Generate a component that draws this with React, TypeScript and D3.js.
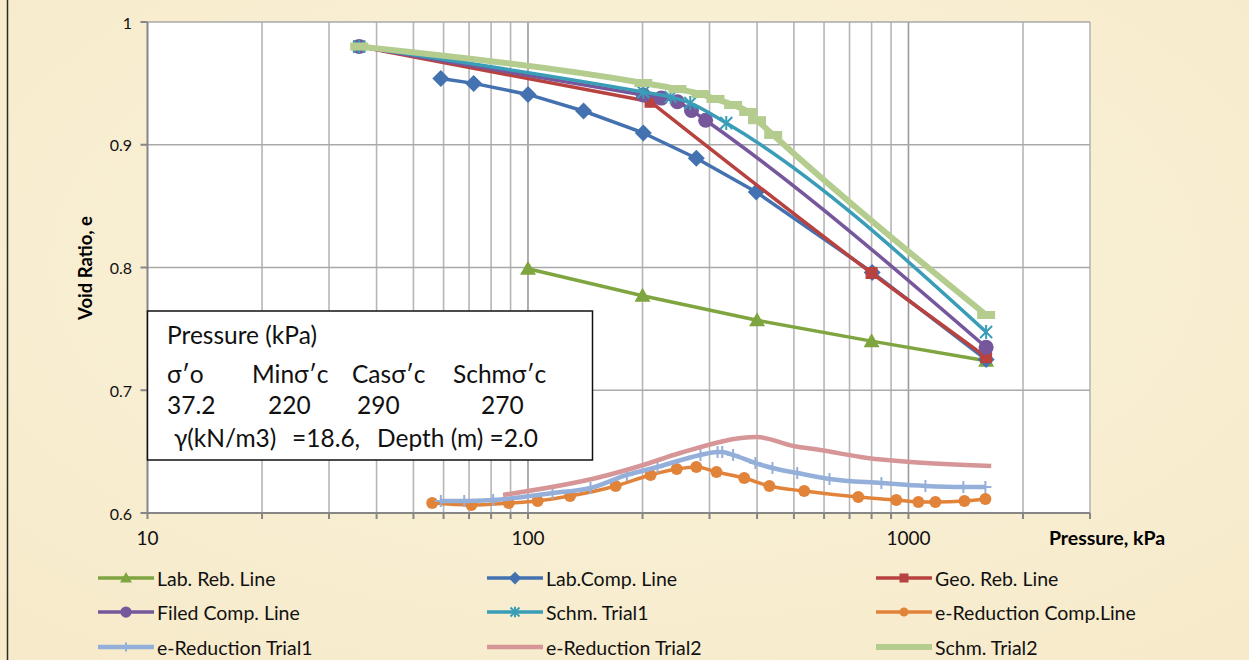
import React from 'react';
import * as d3 from 'd3';

// ---- data (pressure kPa, void ratio e) ----
const labRebP = [100, 200, 400, 800, 1600];
const labRebE = [0.799, 0.777, 0.757, 0.740, 0.724];

const labCompP = [59, 72, 100, 140, 201, 277, 398, 803, 1600];
const labCompE = [0.954, 0.950, 0.941, 0.9275, 0.9096, 0.889, 0.8615, 0.796, 0.725];

const geoRebP = [36, 210, 800, 1600];
const geoRebE = [0.980, 0.935, 0.7955, 0.727];

const filedP = [36, 201, 224, 247, 269, 293, 1600];
const filedE = [0.980, 0.9405, 0.938, 0.935, 0.928, 0.920, 0.735];

const schm1P = [36, 201, 237, 267, 332, 1600];
const schm1E = [0.980, 0.943, 0.939, 0.934, 0.9177, 0.7475];

const eRedCompP = [56, 71, 89, 106, 129, 170, 210, 246, 277, 313, 370, 431, 532, 738, 929, 1062, 1177, 1403, 1593];
const eRedCompE = [0.6081, 0.6065, 0.6081, 0.6098, 0.6138, 0.622, 0.631, 0.6358, 0.6375, 0.6334, 0.6285, 0.622, 0.6179, 0.613, 0.6106, 0.609, 0.609, 0.6098, 0.6114];

const eRed1P = [59, 68, 81, 116, 146, 182, 219, 284, 315, 324, 346, 396, 439, 510, 620, 849, 1108, 1394, 1593];
const eRed1E = [0.6098, 0.6098, 0.6106, 0.6163, 0.6204, 0.631, 0.6375, 0.6473, 0.6497, 0.6497, 0.6473, 0.6407, 0.6367, 0.6326, 0.6277, 0.6244, 0.622, 0.6212, 0.6212];

const eRed2P = [86, 155, 201, 251, 400, 498, 586, 780, 1012, 1650];
const eRed2E = [0.6147, 0.6293, 0.6391, 0.6489, 0.6619, 0.6546, 0.6513, 0.6448, 0.6415, 0.6383];

const schm2P = [36, 201, 247, 284, 311, 346, 379, 400, 441, 1600];
const schm2E = [0.980, 0.9503, 0.9454, 0.9413, 0.9373, 0.9324, 0.9267, 0.920, 0.908, 0.7613];

const yTicks = [0.6, 0.7, 0.8, 0.9, 1];
const xLabelTicks = [10, 100, 1000];
const xGrid = [20, 30, 40, 50, 60, 70, 80, 90, 100, 200, 300, 400, 500, 600, 700, 800, 900, 1000, 2000, 3000];

type Marker = 'triangle' | 'diamond' | 'square' | 'circle' | 'star' | 'circleS' | 'plus' | 'none' | 'dash';

interface Series { name: string; p: number[]; e: number[]; color: string; width: number; marker: Marker; smooth: boolean; straightHead?: boolean; }

// drawn in this order (later on top), also the legend order
const series: Series[] = [
  { name: 'Lab. Reb. Line', p: labRebP, e: labRebE, color: '#7FA540', width: 3.5, marker: 'triangle', smooth: false },
  { name: 'Lab.Comp. Line', p: labCompP, e: labCompE, color: '#4472B1', width: 3.5, marker: 'diamond', smooth: false },
  { name: 'Geo. Reb. Line', p: geoRebP, e: geoRebE, color: '#B8423F', width: 3.5, marker: 'square', smooth: true, straightHead: true },
  { name: 'Filed Comp. Line', p: filedP, e: filedE, color: '#76579C', width: 3.5, marker: 'circle', smooth: true },
  { name: 'Schm. Trial1', p: schm1P, e: schm1E, color: '#3A9DB8', width: 3.5, marker: 'star', smooth: true },
  { name: 'e-Reduction Comp.Line', p: eRedCompP, e: eRedCompE, color: '#E2833A', width: 3.5, marker: 'circleS', smooth: true },
  { name: 'e-Reduction Trial1', p: eRed1P, e: eRed1E, color: '#93AFDA', width: 4.5, marker: 'plus', smooth: true },
  { name: 'e-Reduction Trial2', p: eRed2P, e: eRed2E, color: '#D69596', width: 4.5, marker: 'none', smooth: true },
  { name: 'Schm. Trial2', p: schm2P, e: schm2E, color: '#B4CD8F', width: 6, marker: 'dash', smooth: true },
];

const W = 1249, H = 660;
const L = 147.5, R = 1090, T = 22, B = 513;
const FONT = 'Lato, Carlito, "Open Sans", sans-serif';

const x = d3.scaleLog().domain([10, 3000]).range([L, R]);
const y = d3.scaleLinear().domain([0.6, 1]).range([B, T]);

function MarkerShape({ m, cx, cy, color, s = 1 }: { m: Marker; cx: number; cy: number; color: string; s?: number }) {
  switch (m) {
    case 'triangle':
      return <path d={`M${cx},${cy - 8 * s}L${cx + 8 * s},${cy + 6 * s}L${cx - 8 * s},${cy + 6 * s}Z`} fill={color} />;
    case 'diamond':
      return <path d={`M${cx},${cy - 8.5 * s}L${cx + 8.5 * s},${cy}L${cx},${cy + 8.5 * s}L${cx - 8.5 * s},${cy}Z`} fill={color} />;
    case 'square':
      return <rect x={cx - 6 * s} y={cy - 6 * s} width={12 * s} height={12 * s} fill={color} />;
    case 'circle':
      return <circle cx={cx} cy={cy} r={7.5 * s} fill={color} />;
    case 'circleS':
      return <circle cx={cx} cy={cy} r={6 * s} fill={color} />;
    case 'star':
      return (
        <g stroke={color} strokeWidth={2}>
          <line x1={cx - 6 * s} y1={cy - 6 * s} x2={cx + 6 * s} y2={cy + 6 * s} />
          <line x1={cx - 6 * s} y1={cy + 6 * s} x2={cx + 6 * s} y2={cy - 6 * s} />
          <line x1={cx} y1={cy - 7 * s} x2={cx} y2={cy + 7 * s} />
        </g>
      );
    case 'plus':
      return (
        <g stroke={color} strokeWidth={2}>
          <line x1={cx} y1={cy - 6 * s} x2={cx} y2={cy + 6 * s} />
          <line x1={cx - 6 * s} y1={cy} x2={cx + 6 * s} y2={cy} />
        </g>
      );
    case 'dash':
      return <rect x={cx - 9} y={cy - 4} width={18} height={8} fill={color} />;
    default:
      return null;
  }
}

export default function App() {
  const smoothGen = d3.line<[number, number]>().x(d => d[0]).y(d => d[1]).curve(d3.curveMonotoneX);
  const linearGen = d3.line<[number, number]>().x(d => d[0]).y(d => d[1]).curve(d3.curveLinear);

  const pathFor = (s: Series, pts: [number, number][]) => {
    if (!s.smooth) return linearGen(pts) || '';
    if (s.straightHead) {
      const head = linearGen(pts.slice(0, 2)) || '';
      const tail = smoothGen(pts.slice(1)) || '';
      return head + tail;
    }
    return smoothGen(pts) || '';
  };

  const legendCols = [98, 487, 876];
  const legendRows = [578, 612, 647];

  return (
    <svg width={W} height={H} style={{ position: 'absolute', left: 0, top: 0 }} fontFamily={FONT}>
      <defs>
        <radialGradient id="parch" cx="50%" cy="40%" r="75%">
          <stop offset="0%" stopColor="#FBF3DB" />
          <stop offset="100%" stopColor="#F6EACA" />
        </radialGradient>
      </defs>
      <rect x={0} y={0} width={W} height={H} fill="url(#parch)" />
      <line x1={7.5} y1={0} x2={7.5} y2={H} stroke="#2b2b2b" strokeWidth={1.5} />

      {/* plot area */}
      <rect x={L} y={T} width={R - L} height={B - T} fill="#ffffff" />

      {/* gridlines */}
      {xGrid.map(v => (
        <line key={'gx' + v} x1={x(v)} x2={x(v)} y1={T} y2={B}
          stroke={v === 100 || v === 1000 ? '#9a9a9a' : '#b6b6b6'} strokeWidth={1.6} />
      ))}
      {yTicks.filter(v => v > 0.6).map(v => (
        <line key={'gy' + v} x1={L} x2={R} y1={y(v)} y2={y(v)} stroke="#a9a9a9" strokeWidth={1.6} />
      ))}

      {/* axes */}
      <line x1={L} x2={L} y1={T} y2={B} stroke="#868686" strokeWidth={2} />
      <line x1={L} x2={R} y1={B} y2={B} stroke="#868686" strokeWidth={2.2} />
      {yTicks.map(v => (
        <g key={'yt' + v}>
          <line x1={L - 7} x2={L} y1={y(v)} y2={y(v)} stroke="#868686" strokeWidth={2} />
          <text x={132} y={y(v)} textAnchor="end" dominantBaseline="central" fontSize={16} fill="#111">{String(v)}</text>
        </g>
      ))}
      {[10, ...xGrid].map(v => (
        <line key={'xt' + v} x1={x(v)} x2={x(v)} y1={B} y2={B + 6} stroke="#868686" strokeWidth={2} />
      ))}
      {xLabelTicks.map(v => (
        <text key={'xl' + v} x={x(v)} y={537} textAnchor="middle" dominantBaseline="central" fontSize={19} fill="#111">{String(v)}</text>
      ))}
      <text x={1107} y={537} textAnchor="middle" dominantBaseline="central" fontSize={19.5} fontWeight="bold" fill="#000">Pressure, kPa</text>
      <text transform="translate(85,268) rotate(-90)" textAnchor="middle" dominantBaseline="central" fontSize={18.5} fontWeight="bold" fill="#000">Void Ratio, e</text>

      {/* series */}
      {series.map(s => {
        const pts: [number, number][] = s.p.map((p, i) => [x(p), y(s.e[i])]);
        return (
          <g key={s.name}>
            <path d={pathFor(s, pts)} fill="none" stroke={s.color} strokeWidth={s.width} strokeLinejoin="round" />
            {pts.map((pt, i) => <MarkerShape key={i} m={s.marker} cx={pt[0]} cy={pt[1]} color={s.color} />)}
          </g>
        );
      })}

      {/* text box */}
      <rect x={L} y={311} width={445} height={149} fill="#ffffff" stroke="#111" strokeWidth={1.5} />
      <g fontSize={24.5} fill="#111" dominantBaseline="central">
        <text x={167} y={334}>Pressure (kPa)</text>
        <text x={167} y={373}>σ′o</text>
        <text x={252} y={373}>Minσ′c</text>
        <text x={352} y={373}>Casσ′c</text>
        <text x={453} y={373}>Schmσ′c</text>
        <text x={167} y={404}>37.2</text>
        <text x={268} y={404}>220</text>
        <text x={357} y={404}>290</text>
        <text x={481} y={404}>270</text>
        <text x={174} y={437}>γ(kN/m3)</text>
        <text x={292} y={437}>=18.6,</text>
        <text x={377} y={437}>Depth (m) =2.0</text>
      </g>

      {/* legend */}
      {series.map((s, i) => {
        const cx = legendCols[i % 3];
        const cy = legendRows[Math.floor(i / 3)];
        return (
          <g key={'lg' + s.name}>
            <line x1={cx} x2={cx + 56} y1={cy} y2={cy} stroke={s.color} strokeWidth={s.width} />
            {s.marker !== 'dash' && <MarkerShape m={s.marker} cx={cx + 28} cy={cy} color={s.color} s={0.75} />}
            <text x={cx + 59} y={cy} dominantBaseline="central" fontSize={19.5} fill="#111">{s.name}</text>
          </g>
        );
      })}
    </svg>
  );
}
